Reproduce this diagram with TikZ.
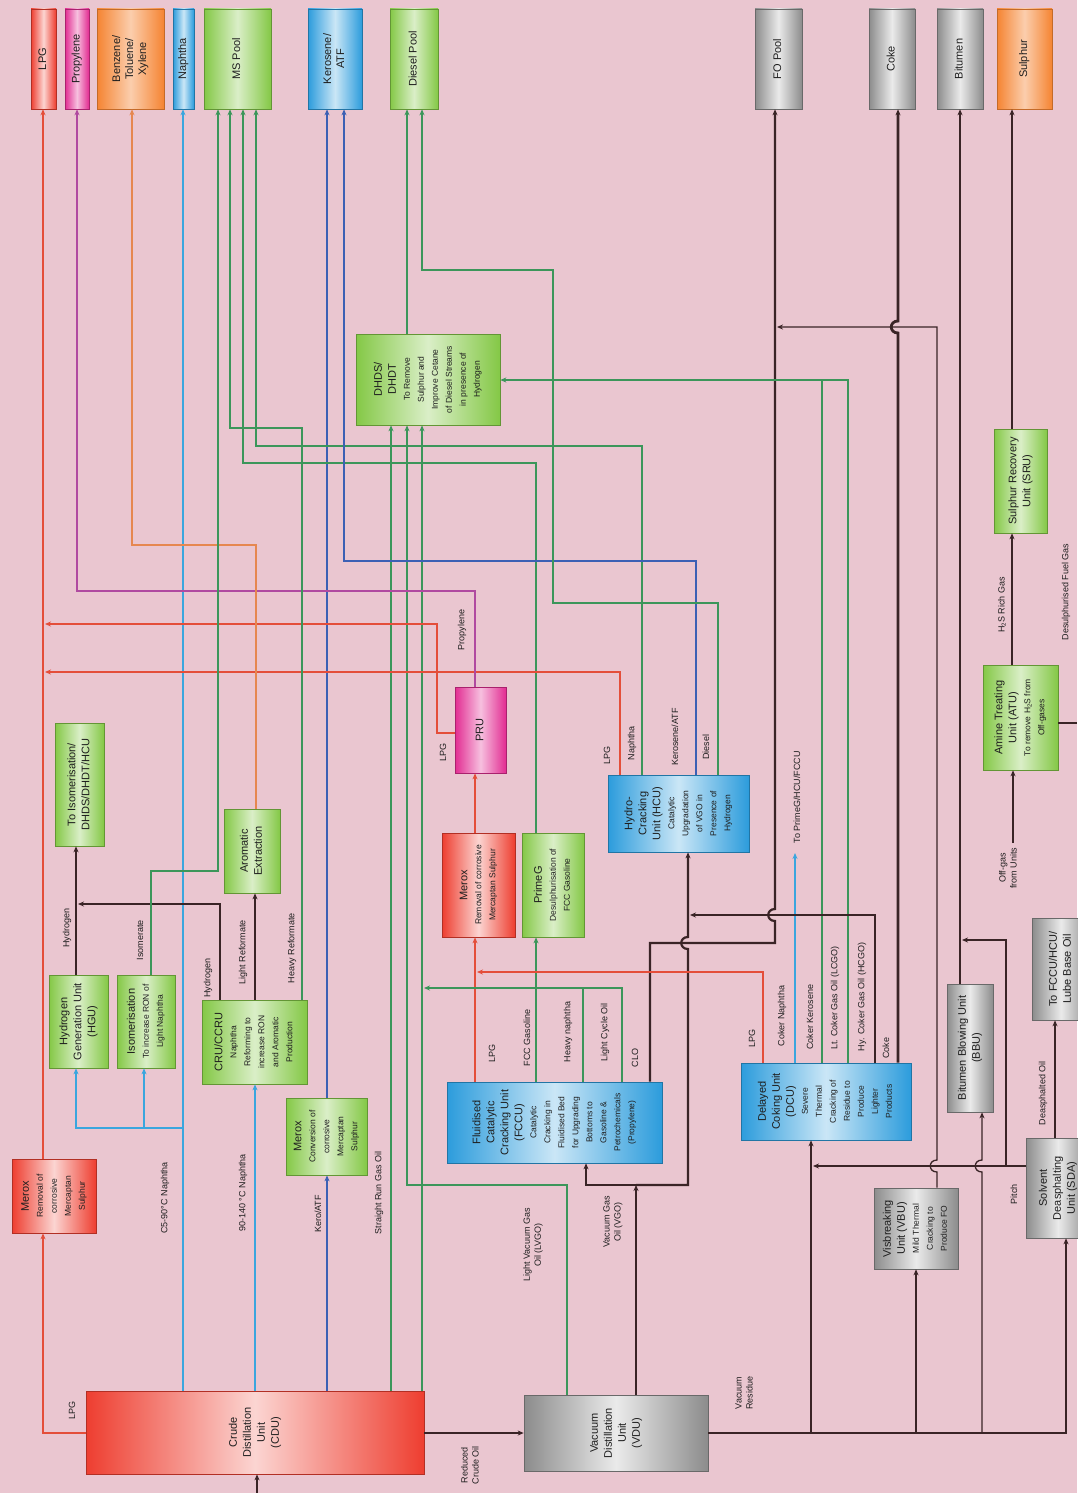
\documentclass[tikz,border=0pt]{standalone}
\usepackage{fontspec}
\setmainfont{Liberation Sans}
\usepackage{graphicx}
\usetikzlibrary{arrows.meta}

\definecolor{bgpink}{RGB}{234,198,208}
\definecolor{txtc}{RGB}{30,30,30}
\definecolor{cred}{RGB}{238,62,48}
\definecolor{cmag}{RGB}{226,44,146}
\definecolor{corg}{RGB}{245,132,50}
\definecolor{cblu}{RGB}{44,156,220}
\definecolor{cgrn}{RGB}{132,200,70}
\definecolor{cgry}{RGB}{140,140,140}
\definecolor{lred}{RGB}{228,78,58}
\definecolor{lmag}{RGB}{176,74,160}
\definecolor{lorg}{RGB}{230,135,80}
\definecolor{lblu}{RGB}{58,166,222}
\definecolor{lkero}{RGB}{60,96,180}
\definecolor{lgrn}{RGB}{60,150,90}
\definecolor{ldrk}{RGB}{58,36,38}

\newcommand{\ttl}{\fontsize{11}{14}\selectfont}
\newcommand{\sbt}{\fontsize{8.5}{14}\selectfont}
\newcommand{\prd}{\fontsize{11}{13}\selectfont}
\newcommand{\vbx}[1]{\rotatebox{90}{\begin{tabular}{@{}c@{}}#1\end{tabular}}}
\newcommand{\jmp}[2]{-- (#1,#2+6) .. controls (#1-9,#2+6) and (#1-9,#2-6) .. (#1,#2-6)}

\tikzset{
  unit/.style={rectangle, inner sep=0pt, line width=0.6pt, text=txtc, font=\sbt},
  sz/.style 2 args={minimum width=#1, minimum height=#2},
  redu/.style={unit, draw=cred!75!black, left color=cred, right color=cred, middle color=cred!22!white},
  magu/.style={unit, draw=cmag!75!black, left color=cmag, right color=cmag, middle color=cmag!30!white},
  orgu/.style={unit, draw=corg!80!black, left color=corg, right color=corg, middle color=corg!40!white},
  bluu/.style={unit, draw=cblu!75!black, left color=cblu, right color=cblu, middle color=cblu!25!white},
  grnu/.style={unit, draw=cgrn!75!black, left color=cgrn, right color=cgrn, middle color=cgrn!30!white},
  gryu/.style={unit, draw=cgry!75!black, left color=cgry, right color=cgry, middle color=cgry!18!white},
  pipe/.style={line width=1.3pt},
  flow/.style={pipe, -{Stealth[length=6pt,width=5pt]}},
  lbl/.style={rotate=90, inner sep=0pt, text=txtc, font=\fontsize{9}{11}\selectfont, align=center}
}

\begin{document}
\begin{tikzpicture}[x=1pt,y=-1pt]
\useasboundingbox (0,0) rectangle (1077,1493);
\fill[bgpink] (0,0) rectangle (1077,1493);

\node[redu,sz={25}{100},font=\prd] (lpg) at (43.5,59) {\vbx{LPG}};
\node[magu,sz={24}{100},font=\prd] (prop) at (77,59) {\vbx{Propylene}};
\node[orgu,sz={67}{100},font=\prd] (btx) at (130.5,59) {\vbx{Benzene/\\Toluene/\\Xylene}};
\node[bluu,sz={21}{100},font=\prd] (naph) at (183.5,59) {\vbx{Naphtha}};
\node[grnu,sz={67}{100},font=\prd] (mspool) at (237.5,59) {\vbx{MS Pool}};
\node[bluu,sz={54}{100},font=\prd] (kero) at (335,59) {\vbx{Kerosene/\\ATF}};
\node[grnu,sz={48}{100},font=\prd] (dpool) at (414,59) {\vbx{Diesel Pool}};
\node[gryu,sz={47}{100},font=\prd] (fopool) at (778.5,59) {\vbx{FO Pool}};
\node[gryu,sz={46}{100},font=\prd] (cokep) at (892,59) {\vbx{Coke}};
\node[gryu,sz={46}{100},font=\prd] (bitu) at (960,59) {\vbx{Bitumen}};
\node[orgu,sz={55}{100},font=\prd] (sulph) at (1024.5,59) {\vbx{Sulphur}};

\node[grnu,sz={144}{91}] (dhds) at (428,379.5) {\vbx{\ttl DHDS/\\\ttl DHDT\\To Remove\\Sulphur and\\Improve Cetane\\of Diesel Streams\\in presence of\\Hydrogen}};
\node[grnu,sz={49}{123}] (toiso) at (79.5,784.5) {\vbx{\ttl To Isomerisation/\\\ttl DHDS/DHDT/HCU}};
\node[grnu,sz={59}{93}] (hgu) at (78.5,1021.5) {\vbx{\ttl Hydrogen\\\ttl Generation Unit\\\ttl (HGU)}};
\node[grnu,sz={58}{93}] (iso) at (146,1021.5) {\vbx{\ttl Isomerisation\\To increase RON of\\Light Naphtha}};
\node[grnu,sz={105}{84}] (cru) at (254.5,1042) {\vbx{\ttl CRU/CCRU\\Naphtha\\Reforming to\\increase RON\\and Aromatic\\Production}};
\node[grnu,sz={56}{84}] (arom) at (252,851) {\vbx{\ttl Aromatic\\\ttl Extraction}};
\node[grnu,sz={81}{77}] (meroxk) at (326.5,1136.5) {\vbx{\ttl Merox\\Conversion of\\corrosive\\Mercaptan\\Sulphur}};
\node[redu,sz={84}{74}] (meroxl) at (54,1196) {\vbx{\ttl Merox\\Removal of\\corrosive\\Mercaptan\\Sulphur}};
\node[redu,sz={338}{83}] (cdu) at (255,1432.5) {\vbx{\ttl Crude\\\ttl Distillation\\\ttl Unit\\\ttl (CDU)}};
\node[gryu,sz={184}{76}] (vdu) at (616,1433) {\vbx{\ttl Vacuum\\\ttl Distillation\\\ttl Unit\\\ttl (VDU)}};
\node[bluu,sz={215}{81}] (fccu) at (554.5,1122.5) {\vbx{\ttl Fluidised\\\ttl Catalytic\\\ttl Cracking Unit\\\ttl (FCCU)\\Catalytic\\Cracking in\\Fluidised Bed\\for Upgrading\\Bottoms to\\Gasoline \&\\Petrochemicals\\(Propylene)}};
\node[redu,sz={73}{104}] (meroxf) at (478.5,885) {\vbx{\ttl Merox\\Removal of corrosive\\Mercaptan Sulphur}};
\node[grnu,sz={62}{104}] (primeg) at (553,885) {\vbx{\ttl PrimeG\\Desulphurisation of\\FCC Gasoline}};
\node[magu,sz={51}{86}] (pru) at (480.5,730) {\vbx{\ttl PRU}};
\node[bluu,sz={141}{77}] (hcu) at (678.5,813.5) {\vbx{\ttl Hydro-\\\ttl Cracking\\\ttl Unit (HCU)\\Catalytic\\Upgradation\\of VGO in\\Presence of\\Hydrogen}};
\node[bluu,sz={170}{77}] (dcu) at (826,1101.5) {\vbx{\ttl Delayed\\\ttl Coking Unit\\\ttl (DCU)\\Severe\\Thermal\\Cracking of\\Residue to\\Produce\\Lighter\\Products}};
\node[gryu,sz={84}{81}] (vbu) at (916,1228.5) {\vbx{\ttl Visbreaking\\\ttl Unit (VBU)\\Mild Thermal\\Cracking to\\Produce FO}};
\node[gryu,sz={46}{128}] (bbu) at (970,1048) {\vbx{\ttl Bitumen Blowing Unit\\\ttl (BBU)}};
\node[gryu,sz={64}{100}] (sda) at (1058,1188) {\vbx{\ttl Solvent\\\ttl Deasphalting\\\ttl Unit (SDA)}};
\node[gryu,sz={58}{102}] (lube) at (1061,969) {\vbx{\ttl To FCCU/HCU/\\\ttl Lube Base Oil}};
\node[grnu,sz={75}{105}] (atu) at (1020.5,717.5) {\vbx{\ttl Amine Treating\\\ttl Unit (ATU)\\To remove H\textsubscript{2}S from\\Off-gases}};
\node[grnu,sz={53}{104}] (sru) at (1020.5,481) {\vbx{\ttl Sulphur Recovery\\\ttl Unit (SRU)}};

\coordinate (crudein) at (257,1493);
\coordinate (c5br) at (183,1128);
\coordinate (vgo) at (636,1185);
\coordinate (offgas) at (1013,843);
\coordinate (fuelgas) at (1077,723);
\coordinate (vr1) at (811,1433);
\coordinate (vr2) at (916,1433);
\coordinate (vr3) at (982,1433);
\coordinate (pt1) at (1006,1166);

\draw[flow,ldrk] (crudein) -- (cdu.south -| crudein);
\draw[flow,lred] (cdu.west |- 0,1433) -| (meroxl.south -| 43,0);
\draw[flow,lred] (meroxl.north -| 43,0) -- (lpg.south -| 43,0);
\draw[flow,lblu] (cdu.north -| 183,0) -- (naph.south -| 183,0);
\draw[flow,lblu] (c5br) -| (hgu.south -| 76,0);
\draw[flow,lblu] (144,1128) -- (iso.south -| 144,0);
\draw[flow,lblu] (cdu.north -| 255,0) -- (cru.south -| 255,0);
\draw[flow,lkero] (cdu.north -| 327,0) -- (meroxk.south -| 327,0);
\draw[flow,lkero] (meroxk.north -| 327,0) -- (kero.south -| 327,0);
\draw[flow,lgrn] (cdu.north -| 391,0) -- (dhds.south -| 391,0);
\draw[flow,lgrn] (cdu.north -| 422,0) -- (dhds.south -| 422,0);
\draw[flow,ldrk] (cdu.east |- 0,1433) -- (vdu.west |- 0,1433);

\draw[flow,lgrn] (vdu.north -| 567,0) |- (407,1185) -- (dhds.south -| 407,0);
\draw[flow,ldrk] (vdu.north -| 636,0) -- (vgo);
\draw[flow,ldrk] (vgo) -| (fccu.south -| 586,0);
\draw[flow,ldrk,line width=2.2pt] (vgo) -- (688,1185) \jmp{688}{943} -- (hcu.south -| 688,0);

\draw[flow,lred] (fccu.north -| 475,0) -- (meroxf.south -| 475,0);
\draw[flow,lred] (meroxf.north -| 475,0) -- (pru.south -| 475,0);
\draw[flow,lgrn] (fccu.north -| 536,0) -- (primeg.south -| 536,0);
\draw[flow,lgrn] (primeg.north -| 536,0) |- (243,463) -- (mspool.south -| 243,0);
\draw[pipe,lgrn] (fccu.north -| 583,0) -- (583,988);
\draw[flow,lgrn] (fccu.north -| 622,0) |- (424,988);
\draw[flow,ldrk,line width=2.2pt] (fccu.north -| 650,0) |- (775,943) \jmp{775}{915} -- (fopool.south -| 775,0);

\draw[flow,lred] (dcu.north -| 763,0) |- (477,972);
\draw[flow,lblu] (dcu.north -| 795,0) -- (795,853);
\draw[pipe,lgrn] (dcu.north -| 822,0) -- (822,380);
\draw[flow,lgrn] (dcu.north -| 848,0) |- (dhds.east |- 0,380);
\draw[flow,ldrk] (dcu.north -| 875,0) |- (690,915);
\draw[flow,ldrk,line width=2.8pt] (dcu.north -| 898,0) \jmp{898}{327} -- (cokep.south -| 898,0);

\draw[flow,lred] (hcu.north -| 620,0) |- (45,672);
\draw[flow,lgrn] (hcu.north -| 642,0) |- (256,446) -- (mspool.south -| 256,0);
\draw[flow,lkero] (hcu.north -| 696,0) |- (344,561) -- (kero.south -| 344,0);
\draw[flow,lgrn] (hcu.north -| 718,0) |- (553,603) |- (422,270) -- (dpool.south -| 422,0);

\draw[flow,lred] (pru.west |- 0,733) -| (437,624) -- (45,624);
\draw[flow,lmag] (pru.north -| 475,0) |- (77,591) -- (prop.south -| 77,0);
\draw[flow,lgrn] (dhds.north -| 407,0) -- (dpool.south -| 407,0);

\draw[flow,ldrk] (hgu.north -| 76,0) -- (toiso.south -| 76,0);
\draw[flow,ldrk] (cru.north -| 220,0) |- (78,904);
\draw[flow,ldrk] (cru.north -| 255,0) -- (arom.south -| 255,0);
\draw[flow,lorg] (arom.north -| 256,0) |- (132,545) -- (btx.south -| 132,0);
\draw[flow,lgrn] (cru.north -| 302,0) |- (230,428) -- (mspool.south -| 230,0);
\draw[flow,lgrn] (iso.north -| 151,0) |- (218,871) -- (mspool.south -| 218,0);

\draw[flow,ldrk] (offgas) -- (atu.south -| offgas);
\draw[flow,ldrk] (atu.north -| 1012,0) -- (sru.south -| 1012,0);
\draw[flow,ldrk] (sru.north -| 1012,0) -- (sulph.south -| 1012,0);
\draw[pipe,ldrk] (atu.east |- fuelgas) -- (fuelgas);

\draw[flow,ldrk] (vdu.east |- 0,1433) -| (sda.south -| 1066,0);
\draw[flow,ldrk] (vr1) -- (dcu.south -| vr1);
\draw[flow,ldrk] (vr2) -- (vbu.south -| vr2);
\draw[flow,ldrk] (vr3) \jmp{982}{1166} -- (bbu.south -| vr3);
\draw[flow,ldrk] (sda.west |- pt1) -- (813,1166);
\draw[flow,ldrk] (pt1) |- (962,940);
\draw[flow,ldrk] (vbu.north -| 937,0) \jmp{937}{1166} -- (937,327) -- (777,327);
\draw[flow,ldrk] (bbu.north -| 960,0) -- (bitu.south -| 960,0);
\draw[flow,ldrk] (sda.north -| 1055,0) -- (lube.south -| 1055,0);

\node[lbl] (llpg) at (72,1410) {LPG};
\node[lbl] (lc5) at (165,1198) {C5-90°C Naphtha};
\node[lbl] (l90) at (243,1193) {90-140 °C Naphtha};
\node[lbl] (lkero) at (318,1214) {Kero/ATF};
\node[lbl] (lsrgo) at (379,1193) {Straight Run Gas Oil};
\node[lbl] (llvgo) at (533,1245) {Light Vacuum Gas\\Oil (LVGO)};
\node[lbl] (lvgo) at (613,1222) {Vacuum Gas\\Oil (VGO)};
\node[lbl] (lres) at (744,1393) {Vacuum\\Residue};
\node[lbl] (lrco) at (470,1465) {Reduced\\Crude Oil};
\node[lbl] (lh2a) at (67,928) {Hydrogen};
\node[lbl] (lisom) at (140,940) {Isomerate};
\node[lbl] (lh2b) at (208,978) {Hydrogen};
\node[lbl] (llr) at (243,952) {Light Reformate};
\node[lbl] (lhr) at (292,948) {Heavy Reformate};
\node[lbl] (lflpg) at (492,1053) {LPG};
\node[lbl] (lfg) at (527,1038) {FCC Gasoline};
\node[lbl] (lhn) at (568,1032) {Heavy naphtha};
\node[lbl] (llco) at (605,1032) {Light Cycle Oil};
\node[lbl] (lclo) at (635,1058) {CLO};
\node[lbl] (lplpg) at (443,752) {LPG};
\node[lbl] (lprop) at (462,630) {Propylene};
\node[lbl] (lhlpg) at (607,755) {LPG};
\node[lbl] (lhnap) at (632,743) {Naphtha};
\node[lbl] (lhker) at (675,737) {Kerosene/ATF};
\node[lbl] (lhdsl) at (706,747) {Diesel};
\node[lbl] (ldlpg) at (752,1038) {LPG};
\node[lbl] (ldnap) at (782,1016) {Coker Naphtha};
\node[lbl] (ldker) at (810,1017) {Coker Kerosene};
\node[lbl] (ldlcgo) at (835,998) {Lt. Coker Gas Oil (LCGO)};
\node[lbl] (ldhcgo) at (862,997) {Hy. Coker Gas Oil (HCGO)};
\node[lbl] (ldcoke) at (886,1048) {Coke};
\node[lbl] (ltopr) at (797,797) {To PrimeG/HCU/FCCU};
\node[lbl] (loff) at (1008,868) {Off-gas\\from Units};
\node[lbl] (lh2s) at (1002,605) {H\textsubscript{2}S Rich Gas};
\node[lbl] (ldfg) at (1066,592) {Desulphurised Fuel Gas};
\node[lbl] (ldao) at (1043,1093) {Deasphalted Oil};
\node[lbl] (lpitch) at (1014,1194) {Pitch};
\end{tikzpicture}
\end{document}
